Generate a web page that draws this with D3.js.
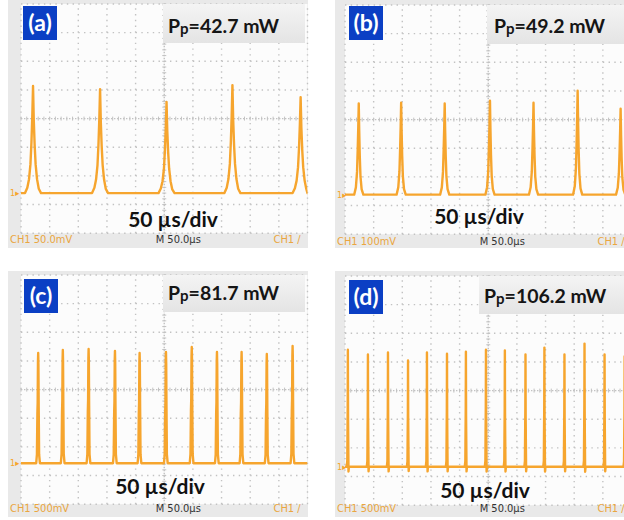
<!DOCTYPE html>
<html>
<head>
<meta charset="utf-8">
<script src="https://cdn.jsdelivr.net/npm/d3@7"></script>
<style>
  body { margin: 0; background: #fff; }
  svg { display: block; }
</style>
</head>
<body>
<div id="chart"></div>
<script>
// panel texts
const panelLabels = ["(a)", "(b)", "(c)", "(d)"];
const pumpPowers = ["42.7", "49.2", "81.7", "106.2"];
const voltScales = ["50.0mV", "100mV", "500mV", "500mV"];
const timeBase = "50.0\u00b5s";

// trace baseline, in divisions from screen centre
const baselineDiv = [-2.60, -2.62, -2.57, -2.66];

// peak times (µs from left edge) and peak levels (divisions)
const peakTimesA = [21, 138, 254, 369, 488];
const peakLevelsA = [1.14, 1.03, 0.58, 1.17, 0.75];
const peakTimesB = [24, 98, 174, 253, 329, 406, 481];
const peakLevelsB = [0.56, 0.59, 0.56, 0.66, 0.59, 1.01, 0.38];
const peakTimesC = [30, 73, 118, 164, 207, 253, 298, 342, 385, 429, 474];
const peakLevelsC = [1.28, 1.38, 1.42, 1.35, 1.28, 1.31, 1.49, 1.31, 1.31, 1.24, 1.52];
const peakTimesD = [5, 40, 75, 110, 143, 178, 211, 246, 279, 315, 348, 383, 418, 453, 488];
const peakLevelsD = [1.43, 1.26, 1.33, 1.05, 1.33, 1.29, 1.36, 1.43, 1.40, 1.26, 1.50, 1.26, 1.64, 1.26, 1.20];

// pulse profiles: [µs offset from peak, fraction of height]
const pulseShapeA = [[-14, 0], [-10, 0.05], [-7, 0.13], [-4.5, 0.27], [-2.8, 0.47], [-1.3, 0.72], [0, 1],
  [1.3, 0.68], [2.8, 0.45], [4.5, 0.27], [7, 0.13], [10, 0.04], [14, 0]];
const pulseShapeB = [[-8, 0], [-5, 0.08], [-3, 0.25], [-1.8, 0.5], [-0.8, 0.75], [0, 1],
  [0.8, 0.7], [1.8, 0.42], [3, 0.2], [5, 0.06], [8, 0]];
const pulseShapeC = [[-3.5, 0], [-2.2, 0.08], [-1.4, 0.45], [-0.9, 0.55], [-0.4, 0.92], [0, 1],
  [0.4, 0.9], [0.9, 0.5], [1.6, 0.08], [3, 0]];
const pulseShapeD = [[-2, 0], [-1, 0.05], [-0.6, 0.32], [-0.3, 0.5], [0, 1],
  [0.3, 0.45], [0.6, 0.25], [1.1, -0.04], [1.8, 0]];

const width = 624, height = 520;
const div = 28.65;
const traceColor = "#f6a52e";
const textFont = "Lato, 'Open Sans', sans-serif";
const barFont = "'Liberation Sans Narrow', 'DejaVu Sans Condensed', sans-serif";

// screen layout: frame box and grid origin for each panel
const panels = [
  { fx: 8, fy: 0, fw: 300, fh: 248, gx: 21, gy: 4, peaks: peakTimesA, levels: peakLevelsA, shape: pulseShapeA,
    box: [163, 4, 142, 39], tag: [23, 6], pp: [168, 33], sd: [173, 227], bar: 243 },
  { fx: 335, fy: 0, fw: 300, fh: 248, gx: 345, gy: 5, peaks: peakTimesB, levels: peakLevelsB, shape: pulseShapeB,
    box: [487, 5, 150, 39], tag: [349, 6], pp: [494, 33], sd: [479, 224], bar: 245 },
  { fx: 8, fy: 271, fw: 300, fh: 246, gx: 21, gy: 275, peaks: peakTimesC, levels: peakLevelsC, shape: pulseShapeC,
    box: [163, 275, 142, 37], tag: [24, 279], pp: [168, 300], sd: [160, 494], bar: 512 },
  { fx: 335, fy: 271, fw: 300, fh: 246, gx: 345, gy: 276, peaks: peakTimesD, levels: peakLevelsD, shape: pulseShapeD,
    box: [479, 276, 150, 38], tag: [349, 280], pp: [484, 303], sd: [485, 498], bar: 512 }
];

const svg = d3.select("#chart").append("svg")
  .attr("width", width)
  .attr("height", height);

const defs = svg.append("defs");
const grad = defs.append("linearGradient")
  .attr("id", "boxGrad")
  .attr("x1", 0).attr("y1", 0).attr("x2", 0).attr("y2", 1);
grad.append("stop").attr("offset", "0%").attr("stop-color", "#f4f4f4");
grad.append("stop").attr("offset", "100%").attr("stop-color", "#e4e4e4");

panels.forEach(function (p, i) {
  const gw = div * 10, gh = div * 8;

  // time and voltage scales of the screen
  const x = d3.scaleLinear().domain([0, 500]).range([p.gx, p.gx + gw]);
  const y = d3.scaleLinear().domain([-4, 4]).range([p.gy + gh, p.gy]);

  const g = svg.append("g");

  // instrument frame and status bar
  g.append("rect")
    .attr("x", p.fx).attr("y", p.fy)
    .attr("width", p.fw).attr("height", p.fh)
    .attr("fill", "#e9e9e9");
  g.append("rect")
    .attr("x", p.gx).attr("y", p.gy)
    .attr("width", gw).attr("height", gh)
    .attr("fill", "#fcfcfc");

  defs.append("clipPath").attr("id", "clip" + i)
    .append("rect")
    .attr("x", p.gx).attr("y", p.gy)
    .attr("width", gw).attr("height", gh);

  // dotted graticule
  const grid = g.append("g").attr("stroke", "#c2c2c2").attr("stroke-width", 1.4);
  d3.range(0, 11).forEach(function (k) {
    grid.append("line")
      .attr("x1", x(k * 50)).attr("x2", x(k * 50))
      .attr("y1", y(-4)).attr("y2", y(4))
      .attr("stroke-dasharray", k === 5 ? "1.4,1.6" : "1.4,4.33");
  });
  d3.range(-4, 5).forEach(function (k) {
    grid.append("line")
      .attr("x1", x(0)).attr("x2", x(500))
      .attr("y1", y(k)).attr("y2", y(k))
      .attr("stroke-dasharray", k === 0 ? "1.4,1.6" : "1.4,4.33");
  });
  // minor ticks on the centre axes
  d3.range(0, 50.01, 1).forEach(function (k) {
    const xx = x(k * 10);
    grid.append("line").attr("x1", xx).attr("x2", xx)
      .attr("stroke-width", 1)
      .attr("y1", y(0) - 2).attr("y2", y(0) + 2);
  });
  d3.range(-4, 4.01, 0.2).forEach(function (k) {
    const yy = y(k);
    grid.append("line").attr("x1", x(250) - 2).attr("x2", x(250) + 2)
      .attr("stroke-width", 1)
      .attr("y1", yy).attr("y2", yy);
  });

  // build the trace from the peaks and the pulse profile
  const base = baselineDiv[i];
  let pts = [[0, base]];
  p.peaks.forEach(function (t, k) {
    const amp = p.levels[k] - base;
    p.shape.forEach(function (s) {
      pts.push([t + s[0], base + s[1] * amp]);
    });
  });
  pts.push([500, base]);
  pts.sort(function (a, b) { return a[0] - b[0]; });

  const line = d3.line()
    .x(function (d) { return x(d[0]); })
    .y(function (d) { return y(d[1]); });

  g.append("path")
    .datum(pts)
    .attr("clip-path", "url(#clip" + i + ")")
    .attr("d", line)
    .attr("fill", "none")
    .attr("stroke", traceColor)
    .attr("stroke-width", 2.4)
    .attr("stroke-linejoin", "round");

  // channel marker
  g.append("text")
    .attr("x", p.fx + 2).attr("y", y(base) + 3)
    .attr("font-family", barFont).attr("font-size", 9)
    .attr("fill", traceColor)
    .text("1\u25b8");

  // trigger position marker
  g.append("circle")
    .attr("cx", x(250)).attr("cy", p.gy + 1.5).attr("r", 1.3)
    .attr("fill", "#333");

  // power label box
  g.append("rect")
    .attr("x", p.box[0]).attr("y", p.box[1])
    .attr("width", p.box[2]).attr("height", p.box[3])
    .attr("fill", "url(#boxGrad)");
  const pp = g.append("text")
    .attr("x", p.pp[0]).attr("y", p.pp[1])
    .attr("font-family", textFont).attr("font-weight", 700)
    .attr("font-size", 19.5).attr("fill", "#151515");
  pp.append("tspan").text("P");
  pp.append("tspan").attr("font-size", 15).attr("dy", 1).text("p");
  pp.append("tspan").attr("dy", -1).text("=" + pumpPowers[i] + " mW");

  // panel tag
  g.append("rect")
    .attr("x", p.tag[0]).attr("y", p.tag[1])
    .attr("width", 34).attr("height", 34)
    .attr("fill", "#0b3fc4");
  g.append("text")
    .attr("x", p.tag[0] + 17).attr("y", p.tag[1] + 25)
    .attr("text-anchor", "middle")
    .attr("font-family", textFont).attr("font-weight", 700)
    .attr("font-size", 23).attr("fill", "#fff")
    .text(panelLabels[i]);

  // time-base annotation
  g.append("text")
    .attr("x", p.sd[0]).attr("y", p.sd[1])
    .attr("text-anchor", "middle")
    .attr("font-family", textFont).attr("font-weight", 700)
    .attr("font-size", 21).attr("fill", "#111")
    .text("50 \u00b5s/div");

  // status bar readouts
  g.append("text")
    .attr("x", p.fx + 2).attr("y", p.bar)
    .attr("font-family", barFont).attr("font-size", 11)
    .attr("fill", "#eaa640")
    .text("CH1  " + voltScales[i]);
  g.append("text")
    .attr("x", x(250) + 14).attr("y", p.bar)
    .attr("text-anchor", "middle")
    .attr("font-family", barFont).attr("font-size", 11)
    .attr("fill", "#333")
    .text("M " + timeBase);
  g.append("text")
    .attr("x", x(500) - 34).attr("y", p.bar)
    .attr("font-family", barFont).attr("font-size", 11)
    .attr("fill", "#eaa640")
    .text("CH1 \u2215");
});
</script>
</body>
</html>
